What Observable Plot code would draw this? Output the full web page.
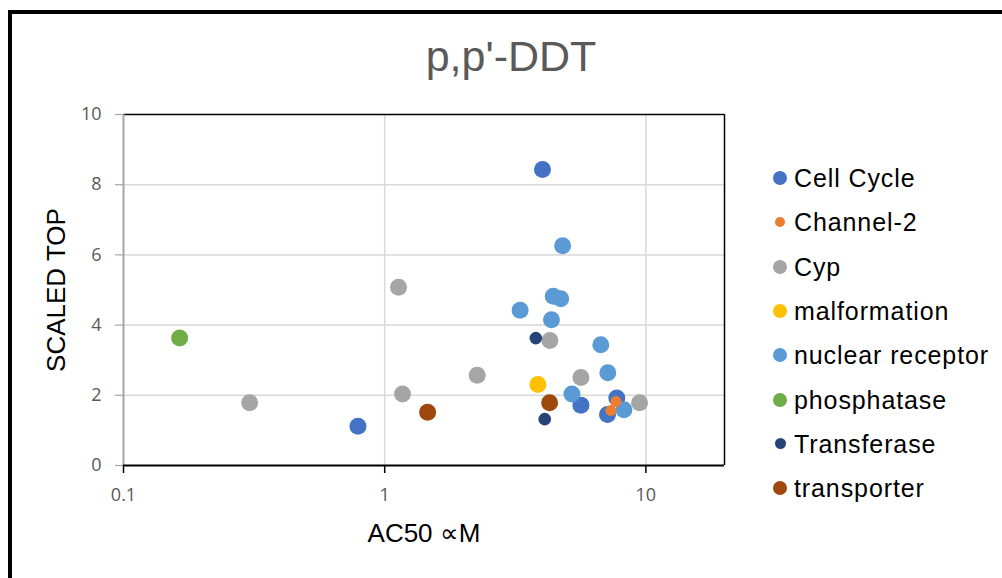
<!DOCTYPE html>
<html>
<head>
<meta charset="utf-8">
<script src="https://cdn.jsdelivr.net/npm/d3@7"></script>
<script src="https://cdn.jsdelivr.net/npm/@observablehq/plot@0.6"></script>
<style>
  html, body { margin: 0; padding: 0; background: #fff; }
  #wrap { position: relative; width: 1002px; height: 578px; overflow: hidden; background: #fff; font-family: "Liberation Sans", Arial, sans-serif; }
  #frame { position: absolute; left: 8px; top: 10px; width: 1100px; height: 700px; border-left: 4px solid #000; border-top: 4px solid #000; box-sizing: border-box; }
  #plot { position: absolute; left: 0; top: 0; }
  #title { position: absolute; left: 311px; width: 400px; top: 35px; text-align: center; font-size: 43px; color: #595959; line-height: 1; }
  #ylab { position: absolute; left: 56px; top: 290px; transform: translate(-50%, -50%) rotate(-90deg); font-size: 26px; color: #000; white-space: nowrap; line-height: 1; }
  #xlab { position: absolute; left: 424px; top: 520px; transform: translateX(-50%); font-size: 26px; color: #000; white-space: nowrap; line-height: 1; }
  #legend { position: absolute; left: 766px; top: 0; }
  .item { position: absolute; left: 0; white-space: nowrap; font-size: 25px; color: #000; letter-spacing: 0.9px; line-height: 1; }
  .sw { position: absolute; border-radius: 50%; }
  .lt { position: absolute; left: 28px; }
</style>
</head>
<body>
<div id="wrap">
  <div id="frame"></div>
  <div id="plot"></div>
  <div id="title">p,p'-DDT</div>
  <div id="ylab">SCALED TOP</div>
  <div id="xlab">AC50 ∝M</div>
  <div id="legend"></div>
</div>
<script>
// ---- data ----
const categories = ["Cell Cycle", "Channel-2", "Cyp", "malformation", "nuclear receptor", "phosphatase", "Transferase", "transporter"];
const xTicks = [0.1, 1, 10];
const xTickLabels = ["0.1", "1", "10"];
const yTicks = [0, 2, 4, 6, 8, 10];

const cellCycleAC50 = [4.02, 0.79, 5.64, 7.74, 7.13];
const cellCycleTop  = [8.43, 1.12, 1.72, 1.92, 1.45];
const channel2AC50 = [7.68, 7.34];
const channel2Top  = [1.82, 1.57];
const cypAC50 = [1.13, 4.29, 2.26, 5.64, 1.17, 9.46, 0.304];
const cypTop  = [5.08, 3.56, 2.57, 2.51, 2.04, 1.79, 1.79];
const malformationAC50 = [3.86];
const malformationTop  = [2.31];
const nuclearReceptorAC50 = [4.80, 4.42, 4.72, 3.30, 4.35, 6.72, 7.15, 5.21, 8.24];
const nuclearReceptorTop  = [6.26, 4.82, 4.75, 4.42, 4.15, 3.44, 2.64, 2.04, 1.59];
const phosphataseAC50 = [0.164];
const phosphataseTop  = [3.63];
const transferaseAC50 = [3.79, 4.10];
const transferaseTop  = [3.63, 1.32];
const transporterAC50 = [4.28, 1.46];
const transporterTop  = [1.79, 1.52];

const seriesAC50 = [cellCycleAC50, channel2AC50, cypAC50, malformationAC50, nuclearReceptorAC50, phosphataseAC50, transferaseAC50, transporterAC50];
const seriesTop  = [cellCycleTop, channel2Top, cypTop, malformationTop, nuclearReceptorTop, phosphataseTop, transferaseTop, transporterTop];

// ---- styles ----
const colors = ["#4472C4", "#ED7D31", "#A5A5A5", "#FFC000", "#5B9BD5", "#70AD47", "#264478", "#9E480E"];
const radii = [8.5, 5.5, 8.5, 8.5, 8.5, 8.5, 6.3, 8.5];
const legendRadii = [7, 5, 7, 7, 7, 7, 5.5, 7];

const rows = [];
categories.forEach((c, i) => {
  seriesAC50[i].forEach((x, j) => rows.push({category: c, ac50: x, top: seriesTop[i][j], r: radii[i]}));
});

const chart = Plot.plot({
  width: 1002,
  height: 578,
  marginLeft: 123,
  marginRight: 278,
  marginTop: 114,
  marginBottom: 113,
  style: {background: "transparent", overflow: "visible"},
  x: {type: "log", domain: [0.1, 20]},
  y: {domain: [0, 10]},
  r: {type: "identity"},
  color: {domain: categories, range: colors},
  marks: [
    Plot.gridY([2, 4, 6, 8], {stroke: "#d9d9d9", strokeOpacity: 1, strokeWidth: 1.5}),
    Plot.gridX([1, 10], {stroke: "#d9d9d9", strokeOpacity: 1, strokeWidth: 1.5}),
    Plot.ruleY([10], {stroke: "#000", strokeWidth: 1.5}),
    Plot.ruleX([20], {stroke: "#000", strokeWidth: 1.5}),
    Plot.axisY({ticks: yTicks, tickSize: 8, tickPadding: 14, stroke: "#a6a6a6", strokeWidth: 1.2, fontSize: 18, fill: "#595959", label: null, fontFamily: "'Open Sans', sans-serif"}),
    Plot.axisX({ticks: xTicks, tickFormat: (d) => xTickLabels[xTicks.indexOf(d)] ?? "", tickSize: 8, tickPadding: 15, stroke: "#000", strokeWidth: 1.5, fontSize: 18, fill: "#595959", label: null, fontFamily: "'Open Sans', sans-serif"}),
    Plot.ruleX([0.1], {stroke: "#a6a6a6", strokeWidth: 2}),
    Plot.ruleY([0], {stroke: "#000", strokeWidth: 2}),
    Plot.dot(rows, {x: "ac50", y: "top", r: "r", fill: "category", stroke: null})
  ]
});
document.getElementById("plot").appendChild(chart);

// legend
const legendTop = 178;
const legendStep = 44.3;
const lg = document.getElementById("legend");
categories.forEach((c, i) => {
  const cy = legendTop + i * legendStep;
  const item = document.createElement("div");
  item.className = "item";
  item.style.top = cy + "px";
  const sw = document.createElement("div");
  sw.className = "sw";
  const r = legendRadii[i];
  sw.style.left = (14 - r) + "px";
  sw.style.top = (-r) + "px";
  sw.style.width = (2 * r) + "px";
  sw.style.height = (2 * r) + "px";
  sw.style.background = colors[i];
  const t = document.createElement("div");
  t.className = "lt";
  t.style.top = "-12px";
  t.textContent = c;
  item.appendChild(sw);
  item.appendChild(t);
  lg.appendChild(item);
});
</script>
</body>
</html>
